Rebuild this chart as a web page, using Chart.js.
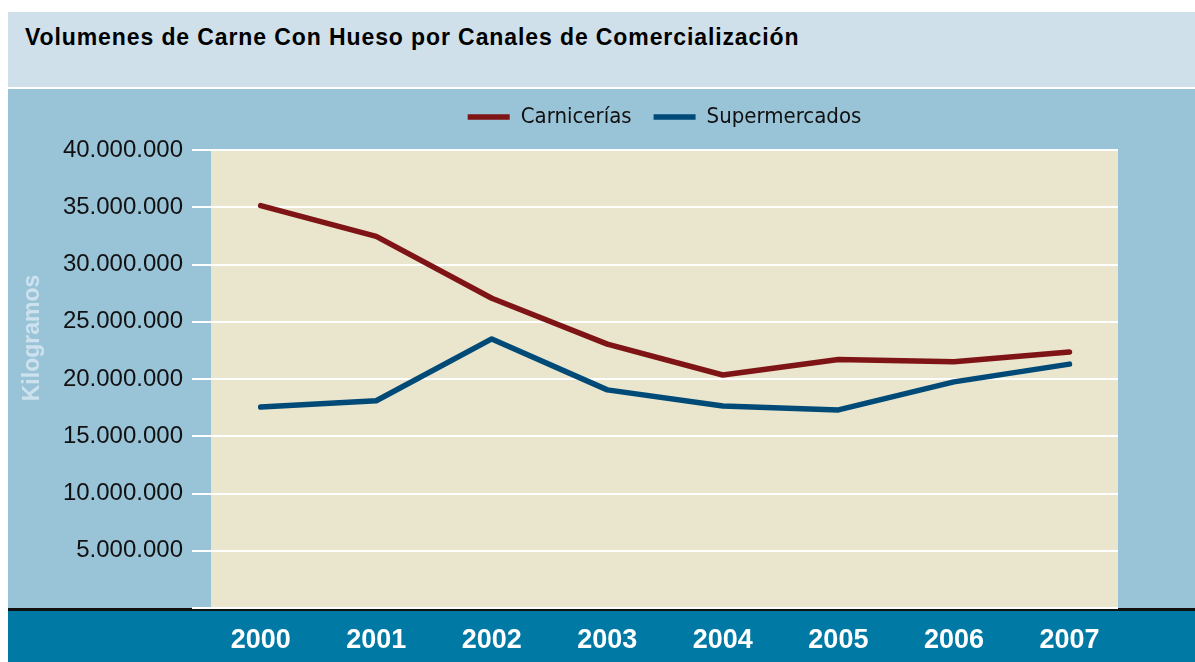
<!DOCTYPE html>
<html>
<head>
<meta charset="utf-8">
<script src="https://cdn.jsdelivr.net/npm/chart.js@4/dist/chart.umd.min.js"></script>
<style>
  body { margin: 0; background: #fff; width: 1195px; height: 662px; overflow: hidden; position: relative; }
  #header {
    position: absolute; left: 8px; top: 12px; width: 1187px; height: 75px;
    background: #cfe0ea;
    font-family: "Liberation Sans", Arial, sans-serif; font-weight: bold; font-size: 23px;
    letter-spacing: 0.9px; line-height: 25px;
    color: #000; box-sizing: border-box; padding: 13px 0 0 17px;
  }
  #chartBox { position: absolute; left: 8px; top: 89px; }
</style>
</head>
<body>
<div id="header">Volumenes de Carne Con Hueso por Canales de Comercialización</div>
<div id="chartBox"><canvas id="myChart" width="1187" height="573"></canvas></div>
<script>
const years = ['2000', '2001', '2002', '2003', '2004', '2005', '2006', '2007']
const carnicerias = [35150000, 32450000, 27050000, 23050000, 20350000, 21700000, 21500000, 22350000]
const supermercados = [17550000, 18100000, 23500000, 19050000, 17650000, 17300000, 19750000, 21300000]
const yTicks = [0, 5000000, 10000000, 15000000, 20000000, 25000000, 30000000, 35000000, 40000000]

// dots as thousand separators, no label at zero
function fmt(v) {
    if (v === 0) return ''
    return String(v).replace(/\B(?=(\d{3})+(?!\d))/g, '.')
}

const panelBg = {
    id: 'panelBg',
    beforeInit(chart) {
        // pin the legend height so the plot top lands where the reference has it
        const fit = chart.legend.fit
        chart.legend.fit = function () {
            fit.call(this)
            this.height = 61
        }
    },
    afterLayout(chart) {
        // legend is centred over the plot area, not the whole canvas
        const lg = chart.legend
        lg.left = chart.chartArea.left
        lg.right = chart.chartArea.right
        lg.top = -5
    },
    beforeDraw(chart) {
        const { ctx, chartArea: a, width, height } = chart
        ctx.save()
        ctx.fillStyle = '#99c3d7'
        ctx.fillRect(0, 0, width, height)
        ctx.fillStyle = '#eae5cd'
        ctx.fillRect(a.left, a.top, a.right - a.left, a.bottom - a.top)
        ctx.fillStyle = '#0079a5'
        ctx.fillRect(0, a.bottom, width, height - a.bottom)
        ctx.fillStyle = '#111'
        ctx.fillRect(0, a.bottom, width, 3)
        // y title
        ctx.translate(25, 249)
        ctx.rotate(-Math.PI / 2)
        ctx.fillStyle = '#cde2ee'
        ctx.font = 'bold 23px "Liberation Sans", Arial, sans-serif'
        ctx.textAlign = 'center'
        ctx.textBaseline = 'middle'
        ctx.fillText('Kilogramos', 0, 0)
        ctx.restore()
    }
}

let currChart = document.getElementById('myChart').getContext('2d')

Chart.defaults.font.family = '"Liberation Sans", Arial, sans-serif'
Chart.defaults.color = '#000'

let lineChart = new Chart(currChart, {
    type: 'line',
    data: {
        datasets: [{
            label: 'Carnicerías',
            data: carnicerias.map((v, i) => ({ x: i, y: v })),
            borderColor: '#7f1416',
            backgroundColor: '#7f1416',
            borderWidth: 5.5,
            borderCapStyle: 'round',
            borderJoinStyle: 'round',
            pointRadius: 0,
            tension: 0,
        }, {
            label: 'Supermercados',
            data: supermercados.map((v, i) => ({ x: i, y: v })),
            borderColor: '#004a78',
            backgroundColor: '#004a78',
            borderWidth: 5.5,
            borderCapStyle: 'round',
            borderJoinStyle: 'round',
            pointRadius: 0,
            tension: 0,
        }]
    },
    plugins: [panelBg],
    options: {
        responsive: false,
        devicePixelRatio: 1,
        animation: false,
        layout: { padding: { left: 0, right: 77, top: 0, bottom: 0 } },
        plugins: {
            legend: {
                labels: {
                    usePointStyle: true,
                    pointStyle: 'line',
                    pointStyleWidth: 42,
                    padding: 22,
                    color: '#111',
                    font: { family: '"Liberation Sans Narrow", "DejaVu Sans Condensed", sans-serif', size: 22 },
                },
            },
            tooltip: { enabled: false },
        },
        scales: {
            x: {
                type: 'linear',
                min: -0.43,
                max: 7.42,
                afterBuildTicks: (s) => { s.ticks = years.map((_, i) => ({ value: i })) },
                afterFit: (s) => { s.height = 54 },
                grid: { display: false },
                border: { display: false },
                ticks: {
                    autoSkip: false,
                    maxRotation: 0,
                    padding: 8,
                    color: '#fff',
                    font: { size: 27, weight: 'bold' },
                    callback: (v) => years[v],
                },
            },
            y: {
                min: 0,
                max: 40000000,
                afterBuildTicks: (s) => { s.ticks = yTicks.map(v => ({ value: v })) },
                afterFit: (s) => { s.width = 203 },
                grid: { color: '#fff', lineWidth: 2, tickLength: 19 },
                border: { display: false },
                ticks: {
                    padding: 9,
                    color: '#111',
                    font: { size: 24 },
                    callback: (v) => fmt(v),
                },
            },
        },
    },
})
</script>
</body>
</html>
